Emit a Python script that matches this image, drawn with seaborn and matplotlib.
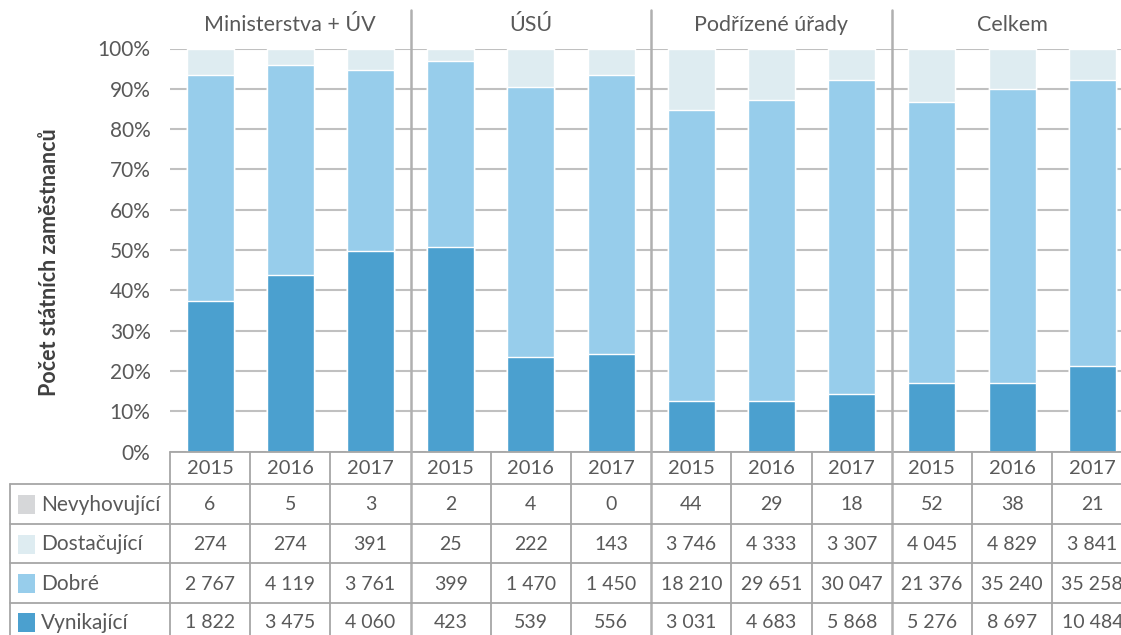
import matplotlib
matplotlib.use("Agg")
import matplotlib.pyplot as plt
import seaborn as sns
import pandas as pd

# ---------------- data ----------------
groups = ["Ministerstva + ÚV", "ÚSÚ", "Podřízené úřady", "Celkem"]
years = ["2015", "2016", "2017"]
categories = ["Nevyhovující", "Dostačující", "Dobré", "Vynikající"]  # table row order (top->bottom)

# counts shown in the data table
nevyhovujici = [6, 5, 3, 2, 4, 0, 44, 29, 18, 52, 38, 21]
dostacujici = [274, 274, 391, 25, 222, 143, 3746, 4333, 3307, 4045, 4829, 3841]
dobre = [2767, 4119, 3761, 399, 1470, 1450, 18210, 29651, 30047, 21376, 35240, 35258]
vynikajici = [1822, 3475, 4060, 423, 539, 556, 3031, 4683, 5868, 5276, 8697, 10484]

# bar segment shares (%) as drawn in the chart
pct_vynikajici = [37.3, 43.8, 49.8, 50.7, 23.4, 24.2, 12.5, 12.5, 14.3, 17.0, 17.0, 21.2]
pct_dobre = [56.1, 52.1, 44.9, 46.2, 67.0, 69.2, 72.2, 74.7, 77.9, 69.7, 72.9, 71.0]
pct_dostacujici = [6.5, 4.0, 5.2, 2.9, 9.4, 6.6, 15.1, 12.7, 7.8, 13.1, 10.0, 7.8]
pct_nevyhovujici = [0.1, 0.1, 0.1, 0.2, 0.2, 0.0, 0.2, 0.1, 0.0, 0.2, 0.1, 0.0]

colors = {
    "Nevyhovující": "#D6D7D9",
    "Dostačující": "#DEECF1",
    "Dobré": "#97CDEB",
    "Vynikající": "#4BA0CF",
}
y_label = "Počet státních zaměstnanců"
y_ticks = [0, 10, 20, 30, 40, 50, 60, 70, 80, 90, 100]

# ---------------- frame ----------------
counts = {"Nevyhovující": nevyhovujici, "Dostačující": dostacujici,
          "Dobré": dobre, "Vynikající": vynikajici}
shares = {"Nevyhovující": pct_nevyhovujici, "Dostačující": pct_dostacujici,
          "Dobré": pct_dobre, "Vynikající": pct_vynikajici}
slots = [f"{g} {y}" for g in groups for y in years]
stack_order = ["Vynikající", "Dobré", "Dostačující", "Nevyhovující"]  # bottom -> top
df = pd.DataFrame({"slot": slots})
for c in stack_order:
    df[c] = shares[c]
cum = df[stack_order].cumsum(axis=1)
cum["Nevyhovující"] = 100.0
for c in stack_order:
    df["cum_" + c] = cum[c]

# ---------------- figure ----------------
sns.set_theme(style="white")
FONT = ["Lato", "DejaVu Sans"]
plt.rcParams["font.family"] = FONT
TXT = "#595959"
W, H = 1121, 635
fig = plt.figure(figsize=(W / 100, H / 100), dpi=100)

X0, SW = 170, 80.2          # left edge of plot / width of one category slot (px)
X1 = X0 + 12 * SW
Y_TOP, Y_BOT = 48.5, 451.5
ax = fig.add_axes([X0 / W, 1 - Y_BOT / H, (X1 - X0) / W, (Y_BOT - Y_TOP) / H])

for c in reversed(stack_order):  # tallest cumulative first
    sns.barplot(data=df, x="slot", y="cum_" + c, order=slots, color=colors[c],
                width=0.585, saturation=1, ax=ax, zorder=2)

ax.set_xlim(-0.5, 11.5)
ax.set_ylim(0, 100)
ax.set_yticks(y_ticks)
ax.set_yticklabels([f"{t}%" for t in y_ticks], color=TXT, fontsize=15)
ax.yaxis.grid(True, color="#C0C0C0", linewidth=1.5, zorder=0)
ax.set_axisbelow(True)
ax.set_xticks([])
ax.set_xlabel("")
ax.set_ylabel("")
ax.tick_params(axis="y", length=0, pad=14)
for s in ax.spines.values():
    s.set_visible(False)
fig.text(50 / W, 1 - 262 / H, y_label, rotation=90, ha="center", va="center",
         fontsize=15.5, fontweight="bold", color="#404040")

# ---------------- overlay (pixel coordinates) ----------------
ov = fig.add_axes([0, 0, 1, 1], facecolor="none")
ov.set_xlim(0, W)
ov.set_ylim(H, 0)
ov.axis("off")
LC = "#A6A6A6"


def slot_edge(k):
    return X0 + k * SW


def slot_mid(i):
    return X0 + (i + 0.5) * SW


TB = 645  # below the visible area
ov.plot([X0, X1], [Y_BOT, Y_BOT], color=LC, lw=1.3)
for k in range(12):
    top = 10 if k in (3, 6, 9) else Y_BOT
    ov.plot([slot_edge(k), slot_edge(k)], [top, TB], color=LC if top == Y_BOT else "#B0B0B0",
            lw=1.3 if top == Y_BOT else 1.8)

row_lines = [484, 523.5, 563, 602.5]
for yl in row_lines:
    ov.plot([10, X1], [yl, yl], color=LC, lw=1.3)
ov.plot([10, 10], [484, TB], color=LC, lw=1.3)

# group titles
for gi, g in enumerate(groups):
    ov.text(slot_mid(gi * 3 + 1), 25, g, ha="center", va="center", fontsize=15.5, color=TXT)

# year headers
for i in range(len(slots)):
    ov.text(slot_mid(i), 469, years[i % 3], ha="center", va="center", fontsize=14.5, color=TXT)

# table rows with legend keys
row_centers = [505, 544.5, 584, 623]
for r, c in enumerate(categories):
    yc = row_centers[r]
    ov.add_patch(plt.Rectangle((18, yc - 10), 17, 19, facecolor=colors[c], edgecolor="none"))
    ov.text(41, yc, c, ha="left", va="center", fontsize=15, color=TXT)
    for i, v in enumerate(counts[c]):
        ov.text(slot_mid(i), yc, f"{v:,}".replace(",", "\u00a0"), ha="center", va="center",
                fontsize=14, color=TXT)

fig.savefig("out.png", dpi=100)
